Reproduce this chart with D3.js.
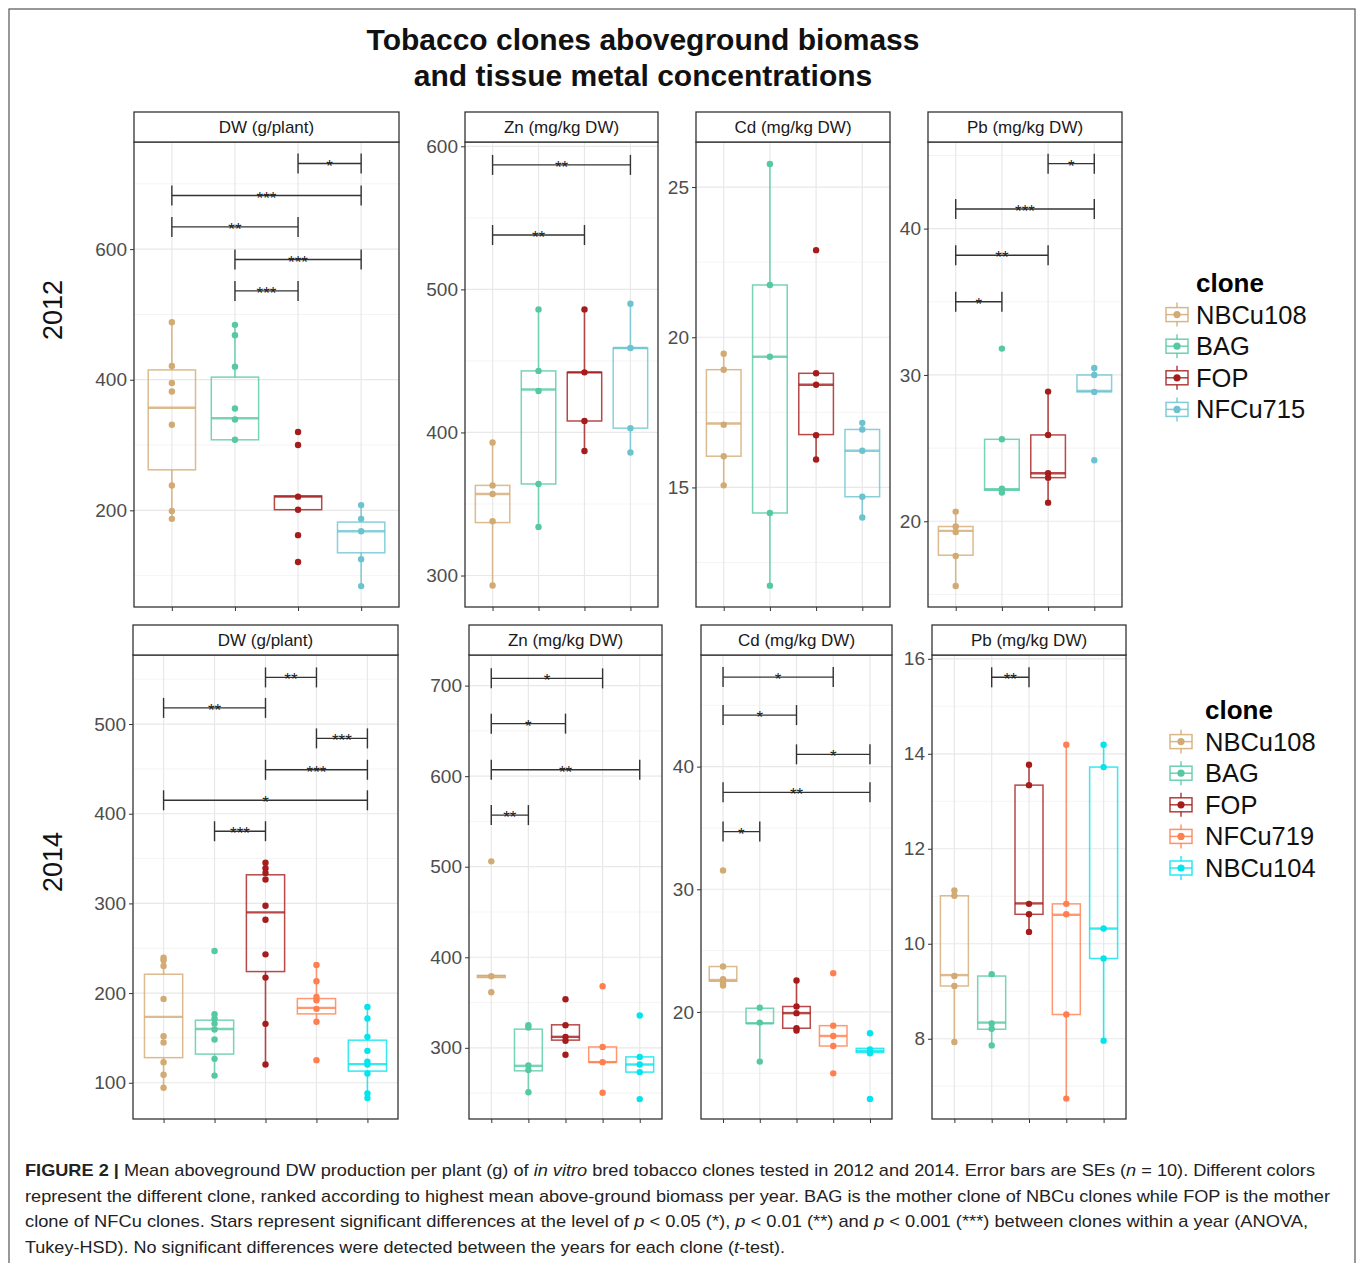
<html>
  <head>
    <meta charset="utf-8">
    <title>Tobacco clones aboveground biomass</title>
    <style>
      body { margin: 0; background: #fff; }
      text { font-family: "Liberation Sans", Arial, sans-serif; }
    </style>
  </head>
  <body>
    <div id="d3-content"></div>
    <script src="https://d3js.org/d3.v7.min.js"></script>
    <script>
      // ---------------- data ----------------
      let clones2012 = ["NBCu108", "BAG", "FOP", "NFCu715"];
      let clones2014 = ["NBCu108", "BAG", "FOP", "NFCu719", "NBCu104"];
      let panelTitles = ["DW (g/plant)", "Zn (mg/kg DW)", "Cd (mg/kg DW)", "Pb (mg/kg DW)"];

      // points per clone ; boxes = [lower whisker, q1, median, q3, upper whisker]
      // sig = [from clone, to clone, y, stars]
      let dw2012Points = [[488, 421, 395, 382, 331, 238, 199, 187], [484, 468, 420, 356, 339, 308], [320, 300, 221, 201, 162, 121], [208, 187, 168, 125, 84]];
      let dw2012Boxes = [[187, 262, 357, 415, 488], [308, 308, 341, 404, 484], [201, 201, 221, 222, 222], [84, 135, 168, 182, 208]];
      let dw2012Sig = [[2, 3, 731, "*"], [0, 3, 682, "***"], [0, 2, 634, "**"], [1, 3, 584, "***"], [1, 2, 536, "***"]];
      let dw2012Ticks = [200, 400, 600];

      let zn2012Points = [[393, 363, 357, 338, 293], [486, 443, 429, 364, 334], [486, 442, 408, 387], [490, 459, 403, 386]];
      let zn2012Boxes = [[293, 337, 357, 363, 393], [334, 364, 430, 443, 486], [387, 408, 442, 442, 486], [386, 403, 459, 459, 490]];
      let zn2012Sig = [[0, 3, 587, "**"], [0, 2, 538, "**"]];
      let zn2012Ticks = [300, 400, 500, 600];

      let cd2012Points = [[19.45, 18.92, 17.09, 16.04, 15.07], [25.77, 21.74, 19.35, 14.15, 11.73], [22.9, 18.8, 18.42, 16.74, 15.93], [17.15, 16.93, 16.22, 14.69, 14.0]];
      let cd2012Boxes = [[15.07, 16.04, 17.13, 18.92, 19.45], [11.73, 14.15, 19.35, 21.74, 25.77], [15.93, 16.76, 18.42, 18.8, 18.8], [14.0, 14.69, 16.22, 16.93, 17.15]];
      let cd2012Sig = [];
      let cd2012Ticks = [15, 20, 25];

      let pb2012Points = [[20.66, 19.64, 19.27, 17.63, 15.58], [31.8, 25.6, 22.23, 21.96], [28.86, 25.9, 23.28, 22.98, 21.27], [30.48, 30.0, 28.84, 24.17]];
      let pb2012Boxes = [[15.58, 17.68, 19.34, 19.64, 20.66], [21.96, 22.12, 22.19, 25.6, 25.6], [21.27, 22.98, 23.28, 25.9, 28.86], [28.84, 28.84, 28.91, 30.0, 30.48]];
      let pb2012Sig = [[2, 3, 44.44, "*"], [0, 3, 41.34, "***"], [0, 2, 38.18, "**"], [0, 1, 35.0, "*"]];
      let pb2012Ticks = [20, 30, 40];

      let dw2014Points = [[239.5, 236.6, 230.2, 193.5, 152, 145, 123, 108.9, 94.4], [247, 176.4, 171.6, 166, 159.4, 148.2, 126.7, 108], [345.3, 339.3, 334, 326.7, 297.4, 281.8, 243.2, 217.3, 165.7, 120.4], [231.3, 213.2, 195.7, 192, 182.4, 168, 125.2], [184.6, 171.6, 151.2, 135.6, 123.4, 120.4, 110.4, 88.1, 82.9]];
      let dw2014Boxes = [[94.4, 128, 173.5, 221, 239.5], [108, 132, 160, 169.8, 176.4], [120.4, 224, 290, 331.9, 345.3], [168, 176.8, 183.5, 193.9, 231.3], [82.9, 113, 120.8, 147.5, 184.6]];
      let dw2014Sig = [[2, 3, 552, "**"], [0, 2, 518, "**"], [3, 4, 484, "***"], [2, 4, 449, "***"], [0, 4, 415, "*"], [1, 2, 380.5, "***"]];
      let dw2014Ticks = [100, 200, 300, 400, 500];

      let zn2014Points = [[505.9, 379, 361.4], [325, 322.4, 280.5, 275.4, 251], [353.7, 325, 312.1, 307.7, 292.3], [368, 301, 284.2, 250.4], [335.7, 290, 281.6, 273.2, 243.4]];
      let zn2014Boxes = [[377.6, 377.6, 379, 380, 380], [251, 274.6, 280.1, 320.6, 320.6], [308.5, 308.5, 312.1, 325.4, 325.4], [284.2, 284.2, 284.2, 301, 301], [273.2, 273.2, 281.6, 290, 290]];
      let zn2014Sig = [[0, 3, 708, "*"], [0, 2, 658, "*"], [0, 4, 607, "**"], [0, 1, 557, "**"]];
      let zn2014Ticks = [300, 400, 500, 600, 700];

      let cd2014Points = [[31.54, 23.7, 22.67, 22.34, 22.15], [20.35, 19.13, 15.95], [22.56, 20.44, 19.9, 18.67, 18.48], [23.16, 18.88, 18.04, 17.22, 14.99], [18.26, 16.95, 16.63, 12.9]];
      let cd2014Boxes = [[22.15, 22.5, 22.6, 23.7, 23.7], [15.95, 19.07, 19.07, 20.3, 20.35], [18.48, 18.67, 19.9, 20.44, 22.56], [17.22, 17.22, 18.04, 18.88, 18.88], [16.7, 16.7, 16.82, 17.03, 17.03]];
      let cd2014Sig = [[0, 3, 47.3, "*"], [0, 2, 44.2, "*"], [2, 4, 41.0, "*"], [0, 4, 37.9, "**"], [0, 1, 34.7, "*"]];
      let cd2014Ticks = [20, 30, 40];

      let pb2014Points = [[11.12, 11.01, 9.32, 9.11, 7.93], [9.36, 8.32, 8.21, 7.86], [13.77, 13.34, 10.84, 10.62, 10.25], [14.19, 10.84, 10.62, 8.51, 6.74], [14.19, 13.72, 10.32, 9.69, 7.96]];
      let pb2014Boxes = [[7.93, 9.11, 9.34, 11.01, 11.12], [7.86, 8.2, 8.34, 9.32, 9.36], [10.25, 10.62, 10.85, 13.34, 13.77], [6.74, 8.51, 10.61, 10.84, 14.19], [7.96, 9.69, 10.32, 13.72, 14.19]];
      let pb2014Sig = [[1, 2, 15.61, "**"]];
      let pb2014Ticks = [8, 10, 12, 14, 16];

      let cloneColors = { NBCu108: "#D2AA73", BAG: "#55C9A2", FOP: "#A51C1C", NFCu715: "#6CC3CF", NFCu719: "#FF7F50", NBCu104: "#00E5EE" };

      let captionLines = [
        [["FIGURE 2 | ", "b"], ["Mean aboveground DW production per plant (g) of ", ""], ["in vitro", "i"], [" bred tobacco clones tested in 2012 and 2014. Error bars are SEs (", ""], ["n", "i"], [" = 10). Different colors", ""]],
        [["represent the different clone, ranked according to highest mean above-ground biomass per year. BAG is the mother clone of NBCu clones while FOP is the mother", ""]],
        [["clone of NFCu clones. Stars represent significant differences at the level of ", ""], ["p", "i"], [" < 0.05 (*), ", ""], ["p", "i"], [" < 0.01 (**) and ", ""], ["p", "i"], [" < 0.001 (***) between clones within a year (ANOVA,", ""]],
        [["Tukey-HSD). No significant differences were detected between the years for each clone (", ""], ["t", "i"], ["-test).", ""]]
      ];

      // ---------------- layout ----------------
      let w = 1360, h = 1263;
      let svg = d3.select("#d3-content").append("svg")
          .attr("width", w)
          .attr("height", h);

      svg.append("rect").attr("x", 9).attr("y", 9).attr("width", 1346).attr("height", 1262)
          .attr("fill", "white").attr("stroke", "#555").attr("stroke-width", 1.2);

      let row2012 = { stripTop: 112, top: 142, bottom: 607, clones: clones2012 };
      let row2014 = { stripTop: 625, top: 655, bottom: 1119, clones: clones2014 };

      let panels = [
        Object.assign({ x0: 134, x1: 399, title: panelTitles[0], points: dw2012Points, boxes: dw2012Boxes, sig: dw2012Sig, ticks: dw2012Ticks, domain: [52, 764] }, row2012),
        Object.assign({ x0: 465, x1: 658, title: panelTitles[1], points: zn2012Points, boxes: zn2012Boxes, sig: zn2012Sig, ticks: zn2012Ticks, domain: [278, 603] }, row2012),
        Object.assign({ x0: 696, x1: 890, title: panelTitles[2], points: cd2012Points, boxes: cd2012Boxes, sig: cd2012Sig, ticks: cd2012Ticks, domain: [11.02, 26.5] }, row2012),
        Object.assign({ x0: 928, x1: 1122, title: panelTitles[3], points: pb2012Points, boxes: pb2012Boxes, sig: pb2012Sig, ticks: pb2012Ticks, domain: [14.14, 45.92] }, row2012),
        Object.assign({ x0: 133, x1: 398, title: panelTitles[0], points: dw2014Points, boxes: dw2014Boxes, sig: dw2014Sig, ticks: dw2014Ticks, domain: [59.6, 577] }, row2014),
        Object.assign({ x0: 469, x1: 662, title: panelTitles[1], points: zn2014Points, boxes: zn2014Boxes, sig: zn2014Sig, ticks: zn2014Ticks, domain: [221.4, 733.8] }, row2014),
        Object.assign({ x0: 701, x1: 892, title: panelTitles[2], points: cd2014Points, boxes: cd2014Boxes, sig: cd2014Sig, ticks: cd2014Ticks, domain: [11.27, 49.1] }, row2014),
        Object.assign({ x0: 932, x1: 1126, title: panelTitles[3], points: pb2014Points, boxes: pb2014Boxes, sig: pb2014Sig, ticks: pb2014Ticks, domain: [6.31, 16.08] }, row2014)
      ];

      //------------------ one facet panel -----------------------
      function drawPanel(p) {
        let g = svg.append("g");
        let xScale = d3.scalePoint()
            .domain(p.clones)
            .range([p.x0, p.x1])
            .padding(0.6);
        let yScale = d3.scaleLinear()
            .domain(p.domain)
            .range([p.bottom, p.top]);
        let bw = xScale.step() * 0.75;

        // grid
        let step = p.ticks[1] - p.ticks[0];
        let minor = p.ticks.map(t => t - step / 2).concat([p.ticks[p.ticks.length - 1] + step / 2])
            .filter(v => v > p.domain[0] && v < p.domain[1]);
        g.selectAll(".minor").data(minor).enter().append("line")
            .attr("x1", p.x0).attr("x2", p.x1)
            .attr("y1", d => yScale(d)).attr("y2", d => yScale(d))
            .attr("stroke", "#EFEFEF").attr("stroke-width", 0.7);
        g.selectAll(".major").data(p.ticks).enter().append("line")
            .attr("x1", p.x0).attr("x2", p.x1)
            .attr("y1", d => yScale(d)).attr("y2", d => yScale(d))
            .attr("stroke", "#E8E8E8").attr("stroke-width", 1.2);
        g.selectAll(".vgrid").data(p.clones).enter().append("line")
            .attr("x1", d => xScale(d)).attr("x2", d => xScale(d))
            .attr("y1", p.top).attr("y2", p.bottom)
            .attr("stroke", "#E8E8E8").attr("stroke-width", 1.2);

        // boxes
        let boxes = g.selectAll(".box").data(p.boxes).enter().append("g")
            .attr("stroke", (d, i) => cloneColors[p.clones[i]])
            .attr("stroke-opacity", 0.8)
            .attr("fill", "none");
        boxes.append("line")
            .attr("x1", (d, i) => xScale(p.clones[i])).attr("x2", (d, i) => xScale(p.clones[i]))
            .attr("y1", d => yScale(d[0])).attr("y2", d => yScale(d[1]))
            .attr("stroke-width", 1.6);
        boxes.append("line")
            .attr("x1", (d, i) => xScale(p.clones[i])).attr("x2", (d, i) => xScale(p.clones[i]))
            .attr("y1", d => yScale(d[3])).attr("y2", d => yScale(d[4]))
            .attr("stroke-width", 1.6);
        boxes.append("rect")
            .attr("x", (d, i) => xScale(p.clones[i]) - bw / 2)
            .attr("width", bw)
            .attr("y", d => yScale(d[3]))
            .attr("height", d => Math.max(0.5, yScale(d[1]) - yScale(d[3])))
            .attr("stroke-width", 1.5);
        boxes.append("line")
            .attr("x1", (d, i) => xScale(p.clones[i]) - bw / 2).attr("x2", (d, i) => xScale(p.clones[i]) + bw / 2)
            .attr("y1", d => yScale(d[2])).attr("y2", d => yScale(d[2]))
            .attr("stroke-width", 2.4);

        // points
        p.points.forEach(function(vals, i) {
          g.selectAll(".pt" + i).data(vals).enter().append("circle")
              .attr("cx", xScale(p.clones[i]))
              .attr("cy", d => yScale(d))
              .attr("r", 3.2)
              .attr("fill", cloneColors[p.clones[i]]);
        });

        // significance brackets
        let sig = g.selectAll(".sig").data(p.sig).enter().append("g")
            .attr("stroke", "#333").attr("stroke-width", 1.4);
        sig.append("line")
            .attr("x1", d => xScale(p.clones[d[0]])).attr("x2", d => xScale(p.clones[d[1]]))
            .attr("y1", d => yScale(d[2])).attr("y2", d => yScale(d[2]));
        sig.append("line")
            .attr("x1", d => xScale(p.clones[d[0]])).attr("x2", d => xScale(p.clones[d[0]]))
            .attr("y1", d => yScale(d[2]) - 10).attr("y2", d => yScale(d[2]) + 10);
        sig.append("line")
            .attr("x1", d => xScale(p.clones[d[1]])).attr("x2", d => xScale(p.clones[d[1]]))
            .attr("y1", d => yScale(d[2]) - 10).attr("y2", d => yScale(d[2]) + 10);
        sig.append("text")
            .attr("stroke", "none").attr("fill", "#222")
            .attr("x", d => (xScale(p.clones[d[0]]) + xScale(p.clones[d[1]])) / 2)
            .attr("y", d => yScale(d[2]) + 8)
            .attr("text-anchor", "middle")
            .style("font-size", "17px")
            .text(d => d[3]);

        // axes
        let yAxis = d3.axisLeft(yScale).tickValues(p.ticks).tickSize(4).tickPadding(3);
        let ya = g.append("g").attr("transform", "translate(" + p.x0 + ",0)").call(yAxis);
        ya.select(".domain").remove();
        ya.selectAll("line").attr("stroke", "#333");
        ya.selectAll("text").attr("fill", "#4D4D4D").style("font-size", "19px");

        let xAxis = d3.axisBottom(xScale).tickSize(4).tickFormat("");
        let xa = g.append("g").attr("transform", "translate(0," + p.bottom + ")").call(xAxis);
        xa.select(".domain").remove();
        xa.selectAll("line").attr("stroke", "#333");

        // border + strip
        g.append("rect")
            .attr("x", p.x0).attr("y", p.top).attr("width", p.x1 - p.x0).attr("height", p.bottom - p.top)
            .attr("fill", "none").attr("stroke", "#333").attr("stroke-width", 1.3);
        g.append("rect")
            .attr("x", p.x0).attr("y", p.stripTop).attr("width", p.x1 - p.x0).attr("height", p.top - p.stripTop)
            .attr("fill", "white").attr("stroke", "#333").attr("stroke-width", 1.3);
        g.append("text")
            .attr("x", (p.x0 + p.x1) / 2)
            .attr("y", (p.stripTop + p.top) / 2 + 6)
            .attr("text-anchor", "middle")
            .attr("fill", "#1A1A1A")
            .style("font-size", "17px")
            .text(p.title);
      }

      panels.forEach(drawPanel);

      //------------------ legends -----------------------
      function drawLegend(clones, keyX, textX, titleY) {
        let g = svg.append("g");
        g.append("text")
            .attr("x", textX).attr("y", titleY + 9)
            .style("font-size", "26px").style("font-weight", "bold")
            .text("clone");
        let items = g.selectAll(".item").data(clones).enter().append("g")
            .attr("transform", (d, i) => "translate(0," + (titleY + 31.6 * (i + 1)) + ")");
        let key = items.append("g")
            .attr("stroke", d => cloneColors[d]).attr("stroke-opacity", 0.85).attr("fill", "none");
        key.append("line").attr("x1", keyX).attr("x2", keyX).attr("y1", -12).attr("y2", 12).attr("stroke-width", 1.5);
        key.append("rect").attr("x", keyX - 11).attr("y", -7).attr("width", 22).attr("height", 14)
            .attr("fill", "white").attr("stroke-width", 1.5);
        key.append("line").attr("x1", keyX - 11).attr("x2", keyX + 11).attr("y1", 0).attr("y2", 0).attr("stroke-width", 1.5);
        items.append("circle").attr("cx", keyX).attr("cy", 0).attr("r", 3.6).attr("fill", d => cloneColors[d]);
        items.append("text")
            .attr("x", textX).attr("y", 9)
            .style("font-size", "25.5px")
            .attr("fill", "#111")
            .text(d => d);
      }
      drawLegend(clones2012, 1177, 1196, 283);
      drawLegend(clones2014, 1181, 1205, 710);

      //------------------ titles -----------------------
      let titleLines = ["Tobacco clones aboveground biomass", "and tissue metal concentrations"];
      svg.selectAll(".title").data(titleLines).enter().append("text")
          .attr("x", 643).attr("y", (d, i) => 50 + i * 36)
          .attr("text-anchor", "middle")
          .style("font-size", "30px").style("font-weight", "bold")
          .attr("fill", "#111")
          .text(d => d);

      [["2012", 310], ["2014", 862]].forEach(function(r) {
        svg.append("text")
            .attr("transform", "translate(62," + r[1] + ") rotate(-90)")
            .attr("text-anchor", "middle")
            .style("font-size", "27px")
            .attr("fill", "#111")
            .text(r[0]);
      });

      //------------------ caption -----------------------
      let captionWidths = [1290, 1305, 1283, 760];
      captionLines.forEach(function(parts, i) {
        let t = svg.append("text")
            .attr("x", 25).attr("y", 1176 + i * 25.5)
            .attr("textLength", captionWidths[i])
            .attr("lengthAdjust", "spacingAndGlyphs")
            .style("font-size", "17px")
            .attr("fill", "#222");
        parts.forEach(function(pt) {
          t.append("tspan")
              .style("font-weight", pt[1] === "b" ? "bold" : null)
              .style("font-style", pt[1] === "i" ? "italic" : null)
              .text(pt[0]);
        });
      });
    </script>
  </body>
</html>
